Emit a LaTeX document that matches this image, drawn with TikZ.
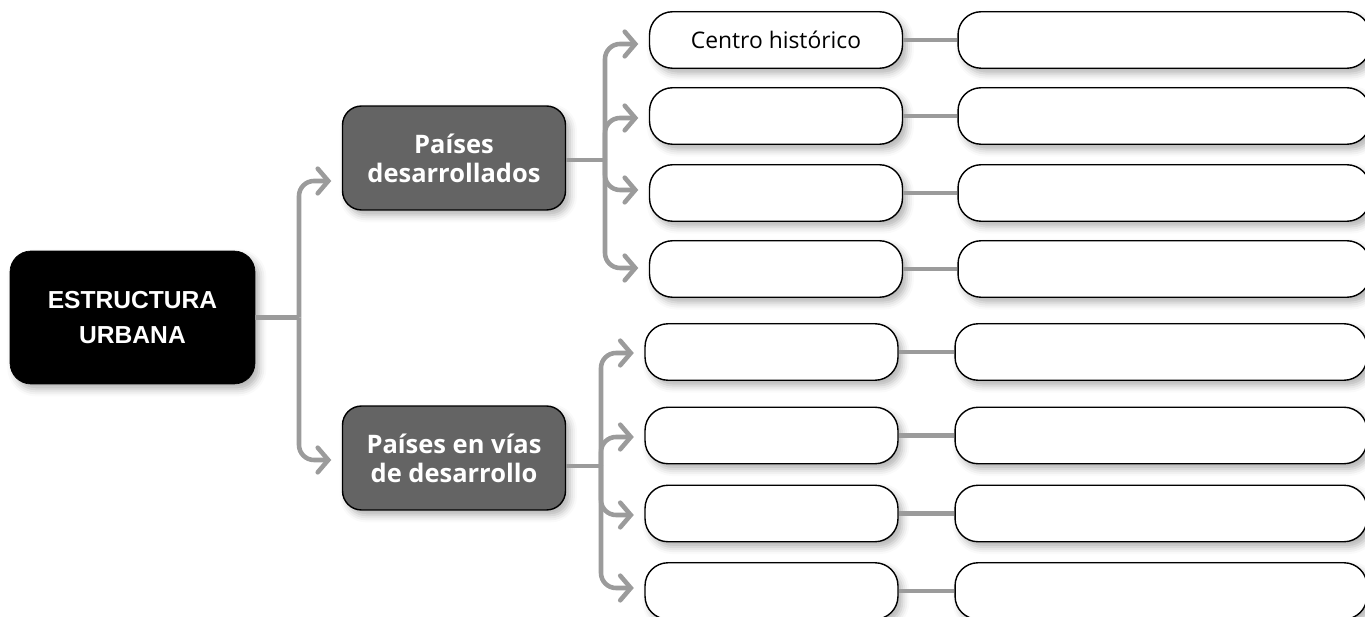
\documentclass[tikz,border=0pt]{standalone}
\usepackage{fontspec}
\setmainfont{Open Sans}
\newfontfamily\rootfont{Liberation Sans}
\definecolor{linkgray}{RGB}{155,155,155}
\definecolor{midgray}{RGB}{100,100,100}
\usetikzlibrary{arrows.meta,positioning,calc,shadows.blur}

\begin{document}
\begin{tikzpicture}[x=0.02cm, y=-0.02cm,
        softshadow/.style={blur shadow={shadow xshift=2.5pt, shadow yshift=-3pt,
                           shadow blur radius=4pt, shadow opacity=30}},
        rootbox/.style={rectangle, rounded corners=0.42cm, fill=black, draw=black,
                        minimum width=4.9cm, minimum height=2.66cm, align=center,
                        text=white, font=\rootfont\fontsize{14}{20}\selectfont\bfseries, softshadow},
        regionbox/.style={rectangle, rounded corners=0.38cm, fill=midgray, draw=black, line width=0.8pt,
                          minimum width=4.46cm, minimum height=2.08cm, align=center,
                          text=white, font=\fontsize{14.5}{16.5}\selectfont\bfseries, softshadow},
        zonebox/.style={rectangle, rounded corners=0.46cm, fill=white, draw=black, line width=0.8pt,
                        minimum width=5.06cm, minimum height=1.13cm,
                        font=\fontsize{13}{15}\selectfont, softshadow},
        notebox/.style={zonebox, minimum width=8.24cm},
        link/.style={linkgray, line width=2.6pt},
        arr/.style={link, rounded corners=0.3cm, shorten >=6pt,
                    -{Straight Barb[length=6pt, width=14pt, line cap=round]}}
      ]
        \useasboundingbox (0,0) rectangle (1365,617);
        \clip (0,0) rectangle (1365,617);

        % Main topic and the two groups
        \node[rootbox]   (root)  at (132.5,317.5) {ESTRUCTURA\\URBANA};
        \node[regionbox] (paisA) at (454,158) {Países\\desarrollados};
        \node[regionbox] (paisB) at (454,458) {Países en vías\\de desarrollo};

        \coordinate (rootsplit) at (299,317.5);
        \draw[link] (root.east) -- (rootsplit);
        \draw[arr] (rootsplit) |- (paisA.west |- 0,181);
        \draw[arr] (rootsplit) |- (paisB.west |- 0,460);

        % Developed countries
        \node[zonebox] (a1) at (776,40)  {Centro histórico};
        \node[zonebox] (a2) at (776,116) {};
        \node[zonebox] (a3) at (776,193) {};
        \node[zonebox] (a4) at (776,269) {};
        \node[notebox] (na1) at (1164,40)  {};
        \node[notebox] (na2) at (1164,116) {};
        \node[notebox] (na3) at (1164,193) {};
        \node[notebox] (na4) at (1164,269) {};

        \coordinate (splitA) at (605,160);
        \draw[link] (paisA.east |- splitA) -- (splitA);
        \draw[arr] (splitA) |- (a1.west |- 0,44);
        \draw[arr] (splitA) |- (a2.west |- 0,118);
        \draw[arr] (splitA) |- (a3.west |- 0,190);
        \draw[arr] (splitA) |- (a4.west |- 0,268);
        \draw[link] (a1.east) -- (na1.west);
        \draw[link] (a2.east) -- (na2.west);
        \draw[link] (a3.east) -- (na3.west);
        \draw[link] (a4.east) -- (na4.west);

        % Developing countries
        \node[zonebox] (b1) at (771.5,352)   {};
        \node[zonebox] (b2) at (771.5,435.5) {};
        \node[zonebox] (b3) at (771.5,513.5) {};
        \node[zonebox] (b4) at (771.5,591)   {};
        \node[notebox] (nb1) at (1161,352)   {};
        \node[notebox] (nb2) at (1161,435.5) {};
        \node[notebox] (nb3) at (1161,513.5) {};
        \node[notebox] (nb4) at (1161,591)   {};

        \coordinate (splitB) at (601,466);
        \draw[link] (paisB.east |- splitB) -- (splitB);
        \draw[arr] (splitB) |- (b1.west |- 0,353);
        \draw[arr] (splitB) |- (b2.west |- 0,437);
        \draw[arr] (splitB) |- (b3.west |- 0,515);
        \draw[arr] (splitB) |- (b4.west |- 0,588);
        \draw[link] (b1.east) -- (nb1.west);
        \draw[link] (b2.east) -- (nb2.west);
        \draw[link] (b3.east) -- (nb3.west);
        \draw[link] (b4.east) -- (nb4.west);
      \end{tikzpicture}
\end{document}
